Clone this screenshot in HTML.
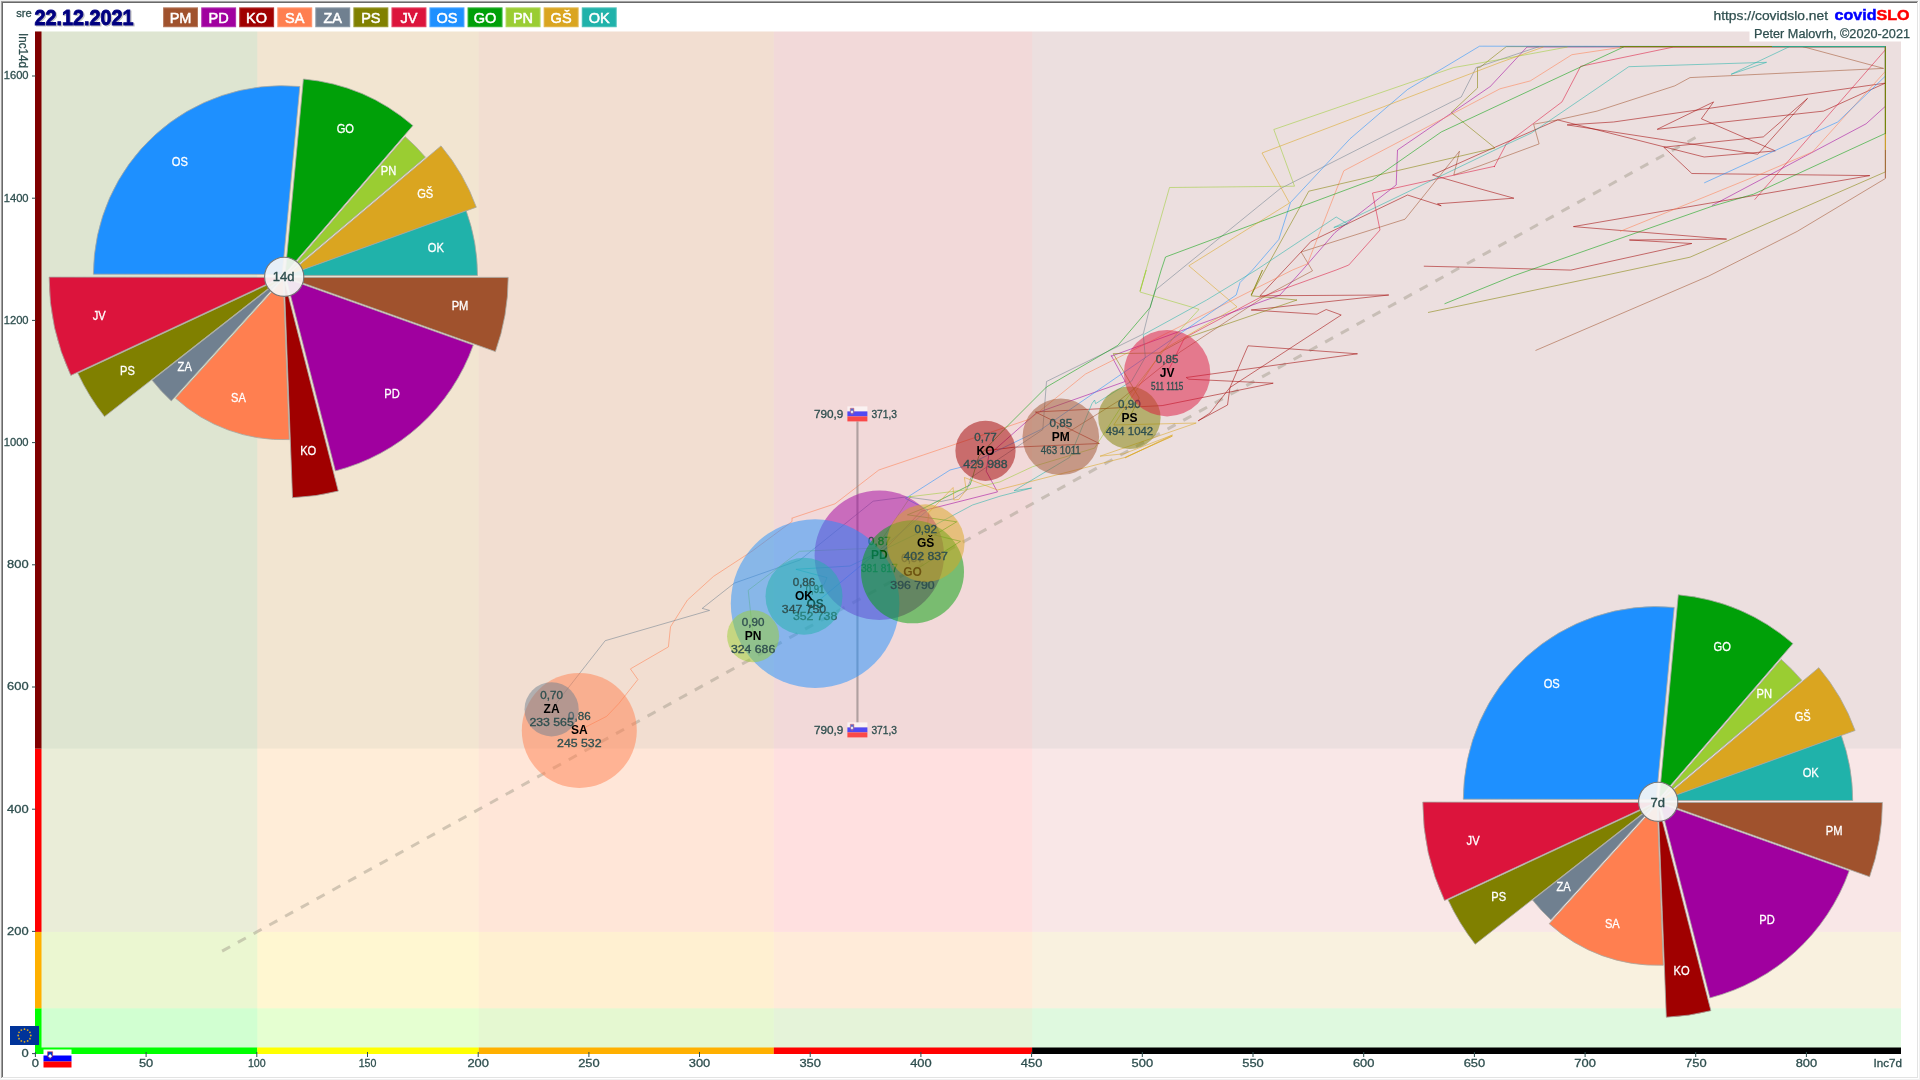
<!DOCTYPE html>
<html lang="sl"><head><meta charset="utf-8"><title>covidSLO 22.12.2021</title>
<style>html,body{margin:0;padding:0;background:#ffffff;overflow:hidden}svg{display:block;will-change:transform;-webkit-font-smoothing:antialiased}</style>
</head><body>
<svg width="1920" height="1080" viewBox="0 0 1920 1080">
<rect x="0" y="0" width="1920" height="1080" fill="#ffffff"/>
<g id="zones">
<rect x="35.0" y="31.5" width="1866.0" height="1022.5" fill="#ffffff"/>
<rect x="35.0" y="31.5" width="222.3" height="1022.5" fill="#00ff00" fill-opacity="0.085"/>
<rect x="257.3" y="31.5" width="221.4" height="1022.5" fill="#ffff00" fill-opacity="0.085"/>
<rect x="478.7" y="31.5" width="295.1" height="1022.5" fill="#ffb000" fill-opacity="0.085"/>
<rect x="773.8" y="31.5" width="258.4" height="1022.5" fill="#ff0000" fill-opacity="0.05"/>
<rect x="1032.1" y="31.5" width="868.9" height="1022.5" fill="#000000" fill-opacity="0.025"/>
<rect x="35.0" y="1008.3" width="1866.0" height="45.7" fill="#00ff00" fill-opacity="0.1"/>
<rect x="35.0" y="931.9" width="1866.0" height="76.4" fill="#ffb000" fill-opacity="0.1"/>
<rect x="35.0" y="748.6" width="1866.0" height="183.3" fill="#ff0000" fill-opacity="0.07"/>
<rect x="35.0" y="31.5" width="1866.0" height="717.1" fill="#800000" fill-opacity="0.1"/>
</g>
<line x1="222.1" y1="951.1" x2="1695.8" y2="137.4" stroke="#a09888" stroke-opacity="0.47" stroke-width="3" stroke-dasharray="9.1 8.9"/>
<g id="traces" fill="none" stroke-width="0.9" stroke-opacity="0.6" stroke-linejoin="round">
<polyline points="1060.8,436.8 1120.0,400.0 1180.0,352.0 1265.0,296.2 1312.5,270.8 1301.2,252.0 1405.0,219.2 1459.5,151.2 1453.8,175.0 1480.0,165.8 1539.1,143.9 1533.6,124.2 1557.7,119.9 1597.0,111.1 1674.7,85.9 1690.0,77.6 1883.6,68.4 1802.7,46.6 1885.4,46.6 1885.4,178.5 1797.2,231.4 1708.6,276.1 1535.5,350.5" stroke="#a0522d"/>
<polyline points="879.3,555.3 921.2,511.2 997.5,491.9 986.2,471.2 988.8,455.0 1036.3,413.0 1125.2,381.5 1111.3,355.6 1111.2,356.2 1280.0,295.0 1302.5,270.0 1335.0,232.5 1396.2,185.0 1397.5,150.0 1488.8,87.5 1489.8,87.0 1527.0,47.0 1885.4,46.6 1885.4,106.3 1866.1,123.8 1711.9,205.6" stroke="#a0009f"/>
<polyline points="985.5,450.8 1014.1,447.2 1099.3,443.5 1035.4,412.0 1162.2,405.6 1227.0,392.6 1273.2,383.2 1188.8,379.2 1186.2,377.5 1357.5,353.8 1248.0,345.8 1230.0,387.5 1227.5,405.0 1198.2,420.8 1210.0,413.0 1230.0,387.5 1341.2,315.0 1326.2,309.5 1317.0,314.2 1251.2,310.0 1388.8,295.0 1260.0,295.8 1311.2,241.2 1407.5,195.0 1441.2,205.8 1437.5,203.8 1513.9,198.2 1480.0,188.8 1432.5,175.0 1480.0,153.8 1557.7,119.9 1704.2,157.0 1775.3,150.9 1701.4,118.8 1713.6,101.9 1657.2,129.3 1823.5,111.1 1885.4,83.1 1613.5,122.0 1567.1,124.9 1757.8,154.2 1807.5,98.4 1763.3,136.9 1663.8,147.2 1691.8,173.5 1869.8,175.6 1573.4,226.6 1726.6,239.1 1629.4,240.0 1691.8,243.5 1570.8,270.1 1480.0,267.5 1423.8,266.2" stroke="#a00000"/>
<polyline points="579.3,730.3 606.7,716.3 618.6,703.8 637.9,679.5 630.4,668.9 668.4,646.9 670.5,626.8 687.4,600.1 713.5,576.4 752.0,551.2 792.0,521.5 792.0,517.9 792.2,518.1 835.0,503.8 878.8,470.0 1030.0,419.0 1085.4,374.1 1292.5,270.0 1307.5,263.8 1343.8,170.8 1500.0,88.8 1530.3,80.9 1571.9,54.7 1623.3,47.0 1885.4,46.6 1885.4,71.3 1812.5,152.0 1762.2,173.5 1620.0,231.4" stroke="#ff7f50"/>
<polyline points="551.6,709.2 605.2,640.7 709.6,610.4 702.2,608.4 734.2,583.2 800.0,560.0 873.1,501.2 906.2,496.9 941.0,501.5 953.3,498.9 966.6,490.3 970.0,481.2 970.6,477.8 1042.8,429.6 1046.5,381.5 1140.9,335.2 1143.3,333.8 1149.4,309.3 1155.5,290.0 1280.0,188.8 1461.2,97.0 1476.2,67.5 1480.0,66.3 1539.1,46.6" stroke="#708090"/>
<polyline points="1129.4,417.9 1139.2,398.0 1113.2,353.6 1159.0,353.0 1187.5,337.5 1297.0,300.0 1251.2,295.8 1262.5,270.0 1251.2,295.0 1308.8,191.2 1495.0,148.0 1451.2,112.5 1477.5,88.0 1477.5,67.5 1480.0,67.3 1506.3,46.6 1885.4,46.6 1885.4,171.9 1690.0,257.2 1601.4,276.1 1428.0,312.5" stroke="#808000"/>
<polyline points="1167.0,373.2 1184.5,337.9 1260.0,297.5 1336.2,270.0 1348.8,265.0 1380.0,230.0 1372.5,193.0 1495.0,166.2 1494.2,166.9 1506.3,143.9 1562.0,101.9 1580.6,66.3 1673.6,47.0 1885.4,46.6 1885.4,49.8 1754.6,199.7" stroke="#dc143c"/>
<polyline points="815.0,603.6 927.9,510.1 905.5,498.4 950.0,470.0 965.0,466.2 1040.9,429.6 1228.9,300.0 1236.2,295.0 1240.0,282.5 1252.5,270.0 1278.8,239.5 1290.5,202.5 1350.0,138.8 1407.5,89.5 1479.5,46.2 1885.4,46.6 1885.4,76.1 1837.7,122.0 1704.2,182.9" stroke="#1e90ff"/>
<polyline points="912.5,571.8 960.5,541.3 934.6,535.0 956.7,521.8 907.4,514.8 922.5,508.8 970.0,485.0 972.5,477.5 978.8,456.2 1003.9,429.6 1046.5,387.0 1117.8,345.4 1150.2,307.4 1161.2,270.0 1165.5,257.0 1372.5,180.0 1441.2,132.0 1500.0,104.5 1624.4,46.6 1885.4,46.6 1885.4,133.4 1753.5,194.2 1711.9,206.3 1512.8,276.1 1444.5,303.8" stroke="#00a008"/>
<polyline points="753.1,636.1 748.2,590.3 799.5,551.3 875.9,548.1 911.0,496.1 908.8,496.9 965.0,490.0 1000.0,481.9 1032.6,466.7 1094.6,448.1 1125.5,400.0 1177.4,332.8 1198.5,310.0 1198.8,309.2 1140.0,292.0 1146.2,270.0 1140.0,291.2 1169.5,187.5 1294.5,186.2 1273.8,129.5 1453.8,67.5 1500.0,59.5 1567.5,47.0" stroke="#9acd32"/>
<polyline points="925.7,543.1 928.8,512.5 953.1,487.5 953.8,500.0 958.8,499.4 966.2,490.0 964.4,477.5 997.5,490.0 1125.2,457.4 1172.4,436.1 1125.2,457.4 1125.0,458.0 1172.5,435.0 1123.8,453.8 1100.0,456.2 1196.2,423.0 1113.8,425.0 1162.5,350.0 1237.0,306.8 1193.8,270.0 1188.8,265.8 1289.5,203.0 1262.0,153.0 1500.0,62.5 1543.4,47.0" stroke="#daa520"/>
<polyline points="804.0,596.3 823.9,584.8 827.0,577.6 795.9,569.3 850.0,566.0 935.0,525.0 972.5,505.0 1000.0,496.2 1031.7,488.0 1014.1,490.7 1069.6,457.4 1091.9,403.7 1094.6,400.0 1095.6,403.7 1131.6,381.1 1145.3,357.2 1143.3,334.8 1206.7,300.0 1256.2,270.0 1336.2,217.0 1347.5,223.8 1333.8,227.5 1500.0,147.5 1531.4,133.0 1628.8,66.7 1766.6,62.3 1731.1,74.3 1789.6,46.6 1885.4,46.6" stroke="#20b2aa"/>
</g>
<g id="caps" fill="none" stroke-width="1" stroke-opacity="0.85">
<polyline points="1620,46.6 1885.4,46.6 1885.4,134" stroke="#808000"/>
<polyline points="1772,46.6 1885.4,46.6" stroke="#20b2aa"/>
<polyline points="1885.4,134 1885.4,150" stroke="#daa520"/>
<polyline points="1885.4,150 1885.4,178" stroke="#a0522d" stroke-opacity="0.6"/>
</g>
<g id="bars">
<rect x="35" y="1008.3" width="6.5" height="45.7" fill="#00ff00"/>
<rect x="35" y="931.9" width="6.5" height="76.4" fill="#ffb000"/>
<rect x="35" y="748.6" width="6.5" height="183.3" fill="#ff0000"/>
<rect x="35" y="31.5" width="6.5" height="717.1" fill="#800000"/>
<rect x="35.0" y="1047.5" width="222.3" height="6.5" fill="#00ff00"/>
<rect x="257.3" y="1047.5" width="221.4" height="6.5" fill="#ffff00"/>
<rect x="478.7" y="1047.5" width="295.1" height="6.5" fill="#ffb000"/>
<rect x="773.8" y="1047.5" width="258.4" height="6.5" fill="#ff0000"/>
<rect x="1032.1" y="1047.5" width="868.9" height="6.5" fill="#000000"/>
</g>
<g id="axes" font-family='"Liberation Sans", "DejaVu Sans", sans-serif' font-size="11.5" fill="#2f4f4f" stroke="#2f4f4f" stroke-width="0.3">
<rect x="32" y="1053.1" width="3.5" height="1" fill="#2f4f4f" stroke="none"/>
<text x="28.6" y="1057.0" text-anchor="end" textLength="7.2" lengthAdjust="spacingAndGlyphs">0</text>
<rect x="32" y="930.9" width="3.5" height="1" fill="#2f4f4f" stroke="none"/>
<text x="28.6" y="934.8" text-anchor="end" textLength="21.5" lengthAdjust="spacingAndGlyphs">200</text>
<rect x="32" y="808.7" width="3.5" height="1" fill="#2f4f4f" stroke="none"/>
<text x="28.6" y="812.6" text-anchor="end" textLength="21.5" lengthAdjust="spacingAndGlyphs">400</text>
<rect x="32" y="686.5" width="3.5" height="1" fill="#2f4f4f" stroke="none"/>
<text x="28.6" y="690.4" text-anchor="end" textLength="21.5" lengthAdjust="spacingAndGlyphs">600</text>
<rect x="32" y="564.3" width="3.5" height="1" fill="#2f4f4f" stroke="none"/>
<text x="28.6" y="568.2" text-anchor="end" textLength="21.5" lengthAdjust="spacingAndGlyphs">800</text>
<rect x="32" y="442.1" width="3.5" height="1" fill="#2f4f4f" stroke="none"/>
<text x="28.6" y="446.0" text-anchor="end" textLength="24.9" lengthAdjust="spacingAndGlyphs">1000</text>
<rect x="32" y="319.9" width="3.5" height="1" fill="#2f4f4f" stroke="none"/>
<text x="28.6" y="323.8" text-anchor="end" textLength="24.9" lengthAdjust="spacingAndGlyphs">1200</text>
<rect x="32" y="197.7" width="3.5" height="1" fill="#2f4f4f" stroke="none"/>
<text x="28.6" y="201.6" text-anchor="end" textLength="24.9" lengthAdjust="spacingAndGlyphs">1400</text>
<rect x="32" y="75.5" width="3.5" height="1" fill="#2f4f4f" stroke="none"/>
<text x="28.6" y="79.4" text-anchor="end" textLength="24.9" lengthAdjust="spacingAndGlyphs">1600</text>
<rect x="34.9" y="1052" width="1" height="5" fill="#2f4f4f" stroke="none"/>
<text x="35.4" y="1067" text-anchor="middle" textLength="7.2" lengthAdjust="spacingAndGlyphs">0</text>
<rect x="145.6" y="1052" width="1" height="5" fill="#2f4f4f" stroke="none"/>
<text x="146.1" y="1067" text-anchor="middle" textLength="14.3" lengthAdjust="spacingAndGlyphs">50</text>
<rect x="256.3" y="1052" width="1" height="5" fill="#2f4f4f" stroke="none"/>
<text x="256.8" y="1067" text-anchor="middle" textLength="17.7" lengthAdjust="spacingAndGlyphs">100</text>
<rect x="367.0" y="1052" width="1" height="5" fill="#2f4f4f" stroke="none"/>
<text x="367.5" y="1067" text-anchor="middle" textLength="17.7" lengthAdjust="spacingAndGlyphs">150</text>
<rect x="477.7" y="1052" width="1" height="5" fill="#2f4f4f" stroke="none"/>
<text x="478.2" y="1067" text-anchor="middle" textLength="21.5" lengthAdjust="spacingAndGlyphs">200</text>
<rect x="588.4" y="1052" width="1" height="5" fill="#2f4f4f" stroke="none"/>
<text x="588.9" y="1067" text-anchor="middle" textLength="21.5" lengthAdjust="spacingAndGlyphs">250</text>
<rect x="699.0" y="1052" width="1" height="5" fill="#2f4f4f" stroke="none"/>
<text x="699.5" y="1067" text-anchor="middle" textLength="21.5" lengthAdjust="spacingAndGlyphs">300</text>
<rect x="809.7" y="1052" width="1" height="5" fill="#2f4f4f" stroke="none"/>
<text x="810.2" y="1067" text-anchor="middle" textLength="21.5" lengthAdjust="spacingAndGlyphs">350</text>
<rect x="920.4" y="1052" width="1" height="5" fill="#2f4f4f" stroke="none"/>
<text x="920.9" y="1067" text-anchor="middle" textLength="21.5" lengthAdjust="spacingAndGlyphs">400</text>
<rect x="1031.1" y="1052" width="1" height="5" fill="#2f4f4f" stroke="none"/>
<text x="1031.6" y="1067" text-anchor="middle" textLength="21.5" lengthAdjust="spacingAndGlyphs">450</text>
<rect x="1141.8" y="1052" width="1" height="5" fill="#2f4f4f" stroke="none"/>
<text x="1142.3" y="1067" text-anchor="middle" textLength="21.5" lengthAdjust="spacingAndGlyphs">500</text>
<rect x="1252.5" y="1052" width="1" height="5" fill="#2f4f4f" stroke="none"/>
<text x="1253.0" y="1067" text-anchor="middle" textLength="21.5" lengthAdjust="spacingAndGlyphs">550</text>
<rect x="1363.2" y="1052" width="1" height="5" fill="#2f4f4f" stroke="none"/>
<text x="1363.7" y="1067" text-anchor="middle" textLength="21.5" lengthAdjust="spacingAndGlyphs">600</text>
<rect x="1473.9" y="1052" width="1" height="5" fill="#2f4f4f" stroke="none"/>
<text x="1474.4" y="1067" text-anchor="middle" textLength="21.5" lengthAdjust="spacingAndGlyphs">650</text>
<rect x="1584.6" y="1052" width="1" height="5" fill="#2f4f4f" stroke="none"/>
<text x="1585.1" y="1067" text-anchor="middle" textLength="21.5" lengthAdjust="spacingAndGlyphs">700</text>
<rect x="1695.2" y="1052" width="1" height="5" fill="#2f4f4f" stroke="none"/>
<text x="1695.8" y="1067" text-anchor="middle" textLength="21.5" lengthAdjust="spacingAndGlyphs">750</text>
<rect x="1805.9" y="1052" width="1" height="5" fill="#2f4f4f" stroke="none"/>
<text x="1806.4" y="1067" text-anchor="middle" textLength="21.5" lengthAdjust="spacingAndGlyphs">800</text>
<text x="1902" y="1067" text-anchor="end" textLength="28.5" lengthAdjust="spacingAndGlyphs">Inc7d</text>
<text transform="translate(18.5,33) rotate(90)" x="0" y="0" font-size="12.5" textLength="35" lengthAdjust="spacingAndGlyphs">Inc14d</text>
</g>
<g id="marker">
<rect x="856.4" y="421.5" width="2.1" height="301" fill="#948888" fill-opacity="0.7"/>
<g opacity="0.66"><rect x="847.4" y="406.4" width="20" height="5.00" fill="#ffffff"/><rect x="847.4" y="411.40" width="20" height="5.00" fill="#0000ff"/><rect x="847.4" y="416.40" width="20" height="5.00" fill="#ff0000"/><path d="M850.3 408.2h3.6v4.2l-1.8 2.1l-1.8 -2.1z" fill="#0033cc" stroke="#ee2222" stroke-width="0.5"/><path d="M850.6 412.1l1.4 -1.8l1.4 1.8l-1.4 1.5z" fill="#ffffff"/></g>
<g font-family='"Liberation Sans", "DejaVu Sans", sans-serif' font-size="10.5" fill="#2f4f4f" stroke="#2f4f4f" stroke-width="0.3"><text x="843.4" y="418.0" text-anchor="end" textLength="29.5" lengthAdjust="spacingAndGlyphs">790,9</text><text x="871.4" y="418.0" textLength="25.7" lengthAdjust="spacingAndGlyphs">371,3</text></g>
<g opacity="0.66"><rect x="847.4" y="722.4" width="20" height="5.00" fill="#ffffff"/><rect x="847.4" y="727.40" width="20" height="5.00" fill="#0000ff"/><rect x="847.4" y="732.40" width="20" height="5.00" fill="#ff0000"/><path d="M850.3 724.2h3.6v4.2l-1.8 2.1l-1.8 -2.1z" fill="#0033cc" stroke="#ee2222" stroke-width="0.5"/><path d="M850.6 728.1l1.4 -1.8l1.4 1.8l-1.4 1.5z" fill="#ffffff"/></g>
<g font-family='"Liberation Sans", "DejaVu Sans", sans-serif' font-size="10.5" fill="#2f4f4f" stroke="#2f4f4f" stroke-width="0.3"><text x="843.4" y="734.0" text-anchor="end" textLength="29.5" lengthAdjust="spacingAndGlyphs">790,9</text><text x="871.4" y="734.0" textLength="25.7" lengthAdjust="spacingAndGlyphs">371,3</text></g>
</g>
<g id="bubbles">
<circle cx="1060.8" cy="436.8" r="38.3" fill="#a0522d" fill-opacity="0.5"/>
<g font-family='"Liberation Sans", "DejaVu Sans", sans-serif' text-anchor="middle" fill="#2f4f4f" stroke="#2f4f4f" stroke-width="0.3" font-size="10.2"><text x="1060.8" y="426.6" textLength="22.6" lengthAdjust="spacingAndGlyphs">0,85</text><text x="1060.8" y="440.8" font-size="12" font-weight="bold" fill="#000000" stroke="none">PM</text><text x="1060.8" y="453.6" textLength="39.9" lengthAdjust="spacingAndGlyphs">463 1011</text></g>
<circle cx="879.3" cy="555.3" r="64.7" fill="#a0009f" fill-opacity="0.5"/>
<g font-family='"Liberation Sans", "DejaVu Sans", sans-serif' text-anchor="middle" fill="#2f4f4f" stroke="#2f4f4f" stroke-width="0.3" font-size="10.2"><text x="879.3" y="545.1" textLength="22.6" lengthAdjust="spacingAndGlyphs">0,87</text><text x="879.3" y="559.3" font-size="12" font-weight="bold" fill="#000000" stroke="none">PD</text><text x="879.3" y="572.1" textLength="36.8" lengthAdjust="spacingAndGlyphs">381 817</text></g>
<circle cx="985.5" cy="450.8" r="30.1" fill="#a00000" fill-opacity="0.5"/>
<g font-family='"Liberation Sans", "DejaVu Sans", sans-serif' text-anchor="middle" fill="#2f4f4f" stroke="#2f4f4f" stroke-width="0.3" font-size="10.2"><text x="985.5" y="440.6" textLength="22.6" lengthAdjust="spacingAndGlyphs">0,77</text><text x="985.5" y="454.8" font-size="12" font-weight="bold" fill="#000000" stroke="none">KO</text><text x="985.5" y="467.6" textLength="44.4" lengthAdjust="spacingAndGlyphs">429 988</text></g>
<circle cx="579.3" cy="730.4" r="57.5" fill="#ff7f50" fill-opacity="0.5"/>
<g font-family='"Liberation Sans", "DejaVu Sans", sans-serif' text-anchor="middle" fill="#2f4f4f" stroke="#2f4f4f" stroke-width="0.3" font-size="10.2"><text x="579.3" y="720.2" textLength="22.6" lengthAdjust="spacingAndGlyphs">0,86</text><text x="579.3" y="734.4" font-size="12" font-weight="bold" fill="#000000" stroke="none">SA</text><text x="579.3" y="747.2" textLength="44.4" lengthAdjust="spacingAndGlyphs">245 532</text></g>
<circle cx="551.6" cy="709.3" r="27.1" fill="#708090" fill-opacity="0.5"/>
<g font-family='"Liberation Sans", "DejaVu Sans", sans-serif' text-anchor="middle" fill="#2f4f4f" stroke="#2f4f4f" stroke-width="0.3" font-size="10.2"><text x="551.6" y="699.1" textLength="22.6" lengthAdjust="spacingAndGlyphs">0,70</text><text x="551.6" y="713.3" font-size="12" font-weight="bold" fill="#000000" stroke="none">ZA</text><text x="551.6" y="726.1" textLength="44.4" lengthAdjust="spacingAndGlyphs">233 565</text></g>
<circle cx="1129.4" cy="417.8" r="31.2" fill="#808000" fill-opacity="0.5"/>
<g font-family='"Liberation Sans", "DejaVu Sans", sans-serif' text-anchor="middle" fill="#2f4f4f" stroke="#2f4f4f" stroke-width="0.3" font-size="10.2"><text x="1129.4" y="407.6" textLength="22.6" lengthAdjust="spacingAndGlyphs">0,90</text><text x="1129.4" y="421.8" font-size="12" font-weight="bold" fill="#000000" stroke="none">PS</text><text x="1129.4" y="434.6" textLength="47.5" lengthAdjust="spacingAndGlyphs">494 1042</text></g>
<circle cx="1167.1" cy="373.2" r="43.2" fill="#dc143c" fill-opacity="0.5"/>
<g font-family='"Liberation Sans", "DejaVu Sans", sans-serif' text-anchor="middle" fill="#2f4f4f" stroke="#2f4f4f" stroke-width="0.3" font-size="10.2"><text x="1167.1" y="363.0" textLength="22.6" lengthAdjust="spacingAndGlyphs">0,85</text><text x="1167.1" y="377.2" font-size="12" font-weight="bold" fill="#000000" stroke="none">JV</text><text x="1167.1" y="390.0" textLength="32.3" lengthAdjust="spacingAndGlyphs">511 1115</text></g>
<circle cx="815.1" cy="603.6" r="84.3" fill="#1e90ff" fill-opacity="0.5"/>
<g font-family='"Liberation Sans", "DejaVu Sans", sans-serif' text-anchor="middle" fill="#2f4f4f" stroke="#2f4f4f" stroke-width="0.3" font-size="10.2"><text x="815.1" y="593.4" textLength="18.8" lengthAdjust="spacingAndGlyphs">0,91</text><text x="815.1" y="607.6" font-size="12" font-weight="bold" fill="#000000" stroke="none">OS</text><text x="815.1" y="620.4" textLength="44.4" lengthAdjust="spacingAndGlyphs">352 738</text></g>
<circle cx="912.5" cy="571.8" r="51.5" fill="#00a008" fill-opacity="0.5"/>
<g font-family='"Liberation Sans", "DejaVu Sans", sans-serif' text-anchor="middle" fill="#2f4f4f" stroke="#2f4f4f" stroke-width="0.3" font-size="10.2"><text x="912.5" y="561.6" textLength="22.6" lengthAdjust="spacingAndGlyphs">0,87</text><text x="912.5" y="575.8" font-size="12" font-weight="bold" fill="#000000" stroke="none">GO</text><text x="912.5" y="588.6" textLength="44.4" lengthAdjust="spacingAndGlyphs">396 790</text></g>
<circle cx="753.1" cy="636.3" r="26.0" fill="#9acd32" fill-opacity="0.5"/>
<g font-family='"Liberation Sans", "DejaVu Sans", sans-serif' text-anchor="middle" fill="#2f4f4f" stroke="#2f4f4f" stroke-width="0.3" font-size="10.2"><text x="753.1" y="626.1" textLength="22.6" lengthAdjust="spacingAndGlyphs">0,90</text><text x="753.1" y="640.3" font-size="12" font-weight="bold" fill="#000000" stroke="none">PN</text><text x="753.1" y="653.1" textLength="44.4" lengthAdjust="spacingAndGlyphs">324 686</text></g>
<circle cx="925.7" cy="543.1" r="38.9" fill="#daa520" fill-opacity="0.5"/>
<g font-family='"Liberation Sans", "DejaVu Sans", sans-serif' text-anchor="middle" fill="#2f4f4f" stroke="#2f4f4f" stroke-width="0.3" font-size="10.2"><text x="925.7" y="532.9" textLength="22.6" lengthAdjust="spacingAndGlyphs">0,92</text><text x="925.7" y="547.1" font-size="12" font-weight="bold" fill="#000000" stroke="none">GŠ</text><text x="925.7" y="559.9" textLength="44.4" lengthAdjust="spacingAndGlyphs">402 837</text></g>
<circle cx="804.0" cy="596.2" r="38.5" fill="#20b2aa" fill-opacity="0.5"/>
<g font-family='"Liberation Sans", "DejaVu Sans", sans-serif' text-anchor="middle" fill="#2f4f4f" stroke="#2f4f4f" stroke-width="0.3" font-size="10.2"><text x="804.0" y="586.0" textLength="22.6" lengthAdjust="spacingAndGlyphs">0,86</text><text x="804.0" y="600.2" font-size="12" font-weight="bold" fill="#000000" stroke="none">OK</text><text x="804.0" y="613.0" textLength="44.4" lengthAdjust="spacingAndGlyphs">347 750</text></g>
</g>
<g id="pie14d">
<path d="M287.2 277.4L508.2 277.4A221.0 221.0 0 0 1 495.4 351.6Z" fill="#a0522d" stroke="#a8a8a0" stroke-opacity="0.8" stroke-width="1" stroke-linejoin="round"/>
<path d="M286.2 278.4L473.3 345.1A198.7 198.7 0 0 1 335.4 470.9Z" fill="#a0009f" stroke="#a8a8a0" stroke-opacity="0.8" stroke-width="1" stroke-linejoin="round"/>
<path d="M284.2 279.4L338.3 491.1A218.5 218.5 0 0 1 292.5 497.7Z" fill="#a00000" stroke="#a8a8a0" stroke-opacity="0.8" stroke-width="1" stroke-linejoin="round"/>
<path d="M283.2 279.4L289.3 439.6A160.3 160.3 0 0 1 175.6 398.3Z" fill="#ff7f50" stroke="#a8a8a0" stroke-opacity="0.8" stroke-width="1" stroke-linejoin="round"/>
<path d="M282.2 278.4L171.3 400.9A165.2 165.2 0 0 1 152.1 380.2Z" fill="#708090" stroke="#a8a8a0" stroke-opacity="0.8" stroke-width="1" stroke-linejoin="round"/>
<path d="M281.2 278.4L104.5 416.6A224.3 224.3 0 0 1 77.8 373.2Z" fill="#808000" stroke="#a8a8a0" stroke-opacity="0.8" stroke-width="1" stroke-linejoin="round"/>
<path d="M281.2 277.4L70.8 375.4A232.1 232.1 0 0 1 49.1 277.1Z" fill="#dc143c" stroke="#a8a8a0" stroke-opacity="0.8" stroke-width="1" stroke-linejoin="round"/>
<path d="M282.2 274.4L93.4 274.2A188.8 188.8 0 0 1 299.8 86.5Z" fill="#1e90ff" stroke="#a8a8a0" stroke-opacity="0.8" stroke-width="1" stroke-linejoin="round"/>
<path d="M285.2 273.4L303.4 79.0A195.3 195.3 0 0 1 412.9 125.6Z" fill="#00a008" stroke="#a8a8a0" stroke-opacity="0.8" stroke-width="1" stroke-linejoin="round"/>
<path d="M286.2 274.4L405.2 136.7A182.0 182.0 0 0 1 425.4 157.2Z" fill="#9acd32" stroke="#a8a8a0" stroke-opacity="0.8" stroke-width="1" stroke-linejoin="round"/>
<path d="M287.2 275.4L441.0 145.9A201.1 201.1 0 0 1 476.3 207.2Z" fill="#daa520" stroke="#a8a8a0" stroke-opacity="0.8" stroke-width="1" stroke-linejoin="round"/>
<path d="M287.2 275.4L466.2 210.8A190.3 190.3 0 0 1 477.5 275.4Z" fill="#20b2aa" stroke="#a8a8a0" stroke-opacity="0.8" stroke-width="1" stroke-linejoin="round"/>
<g font-family='"Liberation Sans", "DejaVu Sans", sans-serif' font-size="12.5" fill="#ffffff" stroke="#ffffff" stroke-width="0.3" text-anchor="middle">
<text x="460.0" y="310.1" textLength="16.7" lengthAdjust="spacingAndGlyphs">PM</text>
<text x="392.0" y="398.2" textLength="15.5" lengthAdjust="spacingAndGlyphs">PD</text>
<text x="308.2" y="454.6" textLength="16.1" lengthAdjust="spacingAndGlyphs">KO</text>
<text x="238.5" y="402.2" textLength="14.8" lengthAdjust="spacingAndGlyphs">SA</text>
<text x="184.7" y="370.8" textLength="14.2" lengthAdjust="spacingAndGlyphs">ZA</text>
<text x="127.5" y="374.6" textLength="14.8" lengthAdjust="spacingAndGlyphs">PS</text>
<text x="99.3" y="320.0" textLength="13.0" lengthAdjust="spacingAndGlyphs">JV</text>
<text x="179.8" y="165.6" textLength="16.1" lengthAdjust="spacingAndGlyphs">OS</text>
<text x="345.3" y="132.7" textLength="17.3" lengthAdjust="spacingAndGlyphs">GO</text>
<text x="388.5" y="175.0" textLength="15.5" lengthAdjust="spacingAndGlyphs">PN</text>
<text x="425.2" y="197.9" textLength="16.1" lengthAdjust="spacingAndGlyphs">GŠ</text>
<text x="435.8" y="251.9" textLength="16.1" lengthAdjust="spacingAndGlyphs">OK</text>
</g>
<circle cx="284.2" cy="276.8" r="19.6" fill="#f6f6f6" fill-opacity="0.93" stroke="#787878" stroke-width="1.1"/>
<text x="283.7" y="281.4" font-family='"Liberation Sans", "DejaVu Sans", sans-serif' font-size="13" fill="#2f4f4f" stroke="#2f4f4f" stroke-width="0.4" text-anchor="middle">14d</text>
</g>
<g id="pie7d">
<path d="M1661.2 802.5L1882.4 802.5A221.2 221.2 0 0 1 1869.6 876.7Z" fill="#a0522d" stroke="#a8a8a0" stroke-opacity="0.8" stroke-width="1" stroke-linejoin="round"/>
<path d="M1660.2 803.5L1849.2 870.8A200.7 200.7 0 0 1 1709.9 997.9Z" fill="#a0009f" stroke="#a8a8a0" stroke-opacity="0.8" stroke-width="1" stroke-linejoin="round"/>
<path d="M1658.2 804.5L1710.9 1010.7A212.9 212.9 0 0 1 1666.3 1017.2Z" fill="#a00000" stroke="#a8a8a0" stroke-opacity="0.8" stroke-width="1" stroke-linejoin="round"/>
<path d="M1657.2 804.5L1663.3 965.2A160.9 160.9 0 0 1 1549.2 923.7Z" fill="#ff7f50" stroke="#a8a8a0" stroke-opacity="0.8" stroke-width="1" stroke-linejoin="round"/>
<path d="M1656.2 803.5L1550.9 919.8A156.9 156.9 0 0 1 1532.6 900.1Z" fill="#708090" stroke="#a8a8a0" stroke-opacity="0.8" stroke-width="1" stroke-linejoin="round"/>
<path d="M1655.2 803.5L1475.2 944.2A228.5 228.5 0 0 1 1448.1 899.9Z" fill="#808000" stroke="#a8a8a0" stroke-opacity="0.8" stroke-width="1" stroke-linejoin="round"/>
<path d="M1655.2 802.5L1444.5 900.5A232.4 232.4 0 0 1 1422.8 802.1Z" fill="#dc143c" stroke="#a8a8a0" stroke-opacity="0.8" stroke-width="1" stroke-linejoin="round"/>
<path d="M1656.2 799.5L1463.3 799.2A192.9 192.9 0 0 1 1674.2 607.4Z" fill="#1e90ff" stroke="#a8a8a0" stroke-opacity="0.8" stroke-width="1" stroke-linejoin="round"/>
<path d="M1659.2 798.5L1678.3 594.8A204.6 204.6 0 0 1 1792.9 643.6Z" fill="#00a008" stroke="#a8a8a0" stroke-opacity="0.8" stroke-width="1" stroke-linejoin="round"/>
<path d="M1660.2 799.5L1781.2 659.4A185.0 185.0 0 0 1 1801.7 680.2Z" fill="#9acd32" stroke="#a8a8a0" stroke-opacity="0.8" stroke-width="1" stroke-linejoin="round"/>
<path d="M1661.2 800.5L1818.8 667.7A206.1 206.1 0 0 1 1855.1 730.5Z" fill="#daa520" stroke="#a8a8a0" stroke-opacity="0.8" stroke-width="1" stroke-linejoin="round"/>
<path d="M1661.2 800.5L1841.3 735.4A191.5 191.5 0 0 1 1852.7 800.5Z" fill="#20b2aa" stroke="#a8a8a0" stroke-opacity="0.8" stroke-width="1" stroke-linejoin="round"/>
<g font-family='"Liberation Sans", "DejaVu Sans", sans-serif' font-size="12.5" fill="#ffffff" stroke="#ffffff" stroke-width="0.3" text-anchor="middle">
<text x="1834.2" y="835.1" textLength="16.7" lengthAdjust="spacingAndGlyphs">PM</text>
<text x="1767.1" y="924.4" textLength="15.5" lengthAdjust="spacingAndGlyphs">PD</text>
<text x="1681.6" y="975.2" textLength="16.1" lengthAdjust="spacingAndGlyphs">KO</text>
<text x="1612.3" y="927.6" textLength="14.8" lengthAdjust="spacingAndGlyphs">SA</text>
<text x="1563.6" y="891.3" textLength="14.2" lengthAdjust="spacingAndGlyphs">ZA</text>
<text x="1498.7" y="901.3" textLength="14.8" lengthAdjust="spacingAndGlyphs">PS</text>
<text x="1473.1" y="845.0" textLength="13.0" lengthAdjust="spacingAndGlyphs">JV</text>
<text x="1551.7" y="688.2" textLength="16.1" lengthAdjust="spacingAndGlyphs">OS</text>
<text x="1722.2" y="650.9" textLength="17.3" lengthAdjust="spacingAndGlyphs">GO</text>
<text x="1764.2" y="698.3" textLength="15.5" lengthAdjust="spacingAndGlyphs">PN</text>
<text x="1802.7" y="720.9" textLength="16.1" lengthAdjust="spacingAndGlyphs">GŠ</text>
<text x="1810.7" y="776.7" textLength="16.1" lengthAdjust="spacingAndGlyphs">OK</text>
</g>
<circle cx="1658.2" cy="801.8" r="19.6" fill="#f6f6f6" fill-opacity="0.93" stroke="#787878" stroke-width="1.1"/>
<text x="1657.7" y="806.5" font-family='"Liberation Sans", "DejaVu Sans", sans-serif' font-size="13" fill="#2f4f4f" stroke="#2f4f4f" stroke-width="0.4" text-anchor="middle">7d</text>
</g>
<g id="eu"><rect x="10" y="1026" width="29" height="19" fill="#003399"/>
<circle cx="24.50" cy="1029.20" r="0.9" fill="#ddaa22"/>
<circle cx="27.65" cy="1030.04" r="0.9" fill="#ddaa22"/>
<circle cx="29.96" cy="1032.35" r="0.9" fill="#ddaa22"/>
<circle cx="30.80" cy="1035.50" r="0.9" fill="#ddaa22"/>
<circle cx="29.96" cy="1038.65" r="0.9" fill="#ddaa22"/>
<circle cx="27.65" cy="1040.96" r="0.9" fill="#ddaa22"/>
<circle cx="24.50" cy="1041.80" r="0.9" fill="#ddaa22"/>
<circle cx="21.35" cy="1040.96" r="0.9" fill="#ddaa22"/>
<circle cx="19.04" cy="1038.65" r="0.9" fill="#ddaa22"/>
<circle cx="18.20" cy="1035.50" r="0.9" fill="#ddaa22"/>
<circle cx="19.04" cy="1032.35" r="0.9" fill="#ddaa22"/>
<circle cx="21.35" cy="1030.04" r="0.9" fill="#ddaa22"/>
</g>
<g opacity="1.0"><rect x="43.5" y="1049.5" width="28" height="6.00" fill="#ffffff"/><rect x="43.5" y="1055.50" width="28" height="6.00" fill="#0000ff"/><rect x="43.5" y="1061.50" width="28" height="6.00" fill="#ff0000"/><path d="M47.6 1051.7h5.0v5.0l-2.5 2.5l-2.5 -2.5z" fill="#0033cc" stroke="#ee2222" stroke-width="0.5"/><path d="M48.1 1056.3l2.0 -2.2l2.0 2.2l-2.0 1.8z" fill="#ffffff"/></g>
<g id="header" font-family='"Liberation Sans", "DejaVu Sans", sans-serif'>
<text x="16.2" y="16.8" font-size="10.5" fill="#2f4f4f" stroke="#2f4f4f" stroke-width="0.3" textLength="15.5" lengthAdjust="spacingAndGlyphs">sre</text>
<text x="35.8" y="26.4" font-size="22" font-weight="bold" fill="#c4c4c4" stroke="#c4c4c4" stroke-width="0.9" textLength="99" lengthAdjust="spacingAndGlyphs">22.12.2021</text>
<text x="34.5" y="25" font-size="22" font-weight="bold" fill="#000080" stroke="#000080" stroke-width="0.9" textLength="99" lengthAdjust="spacingAndGlyphs">22.12.2021</text>
<rect x="163.1" y="7.4" width="34.9" height="19.8" fill="#a0522d"/>
<rect x="163.6" y="7.9" width="33.9" height="18.8" fill="none" stroke="#ffffff" stroke-opacity="0.22" stroke-width="1"/>
<text x="180.5" y="22.6" font-size="14.5" fill="#ffffff" stroke="#ffffff" stroke-width="0.5" text-anchor="middle">PM</text>
<rect x="201.2" y="7.4" width="34.9" height="19.8" fill="#a0009f"/>
<rect x="201.7" y="7.9" width="33.9" height="18.8" fill="none" stroke="#ffffff" stroke-opacity="0.22" stroke-width="1"/>
<text x="218.6" y="22.6" font-size="14.5" fill="#ffffff" stroke="#ffffff" stroke-width="0.5" text-anchor="middle">PD</text>
<rect x="239.2" y="7.4" width="34.9" height="19.8" fill="#a00000"/>
<rect x="239.7" y="7.9" width="33.9" height="18.8" fill="none" stroke="#ffffff" stroke-opacity="0.22" stroke-width="1"/>
<text x="256.6" y="22.6" font-size="14.5" fill="#ffffff" stroke="#ffffff" stroke-width="0.5" text-anchor="middle">KO</text>
<rect x="277.3" y="7.4" width="34.9" height="19.8" fill="#ff7f50"/>
<rect x="277.8" y="7.9" width="33.9" height="18.8" fill="none" stroke="#ffffff" stroke-opacity="0.22" stroke-width="1"/>
<text x="294.7" y="22.6" font-size="14.5" fill="#ffffff" stroke="#ffffff" stroke-width="0.5" text-anchor="middle">SA</text>
<rect x="315.3" y="7.4" width="34.9" height="19.8" fill="#708090"/>
<rect x="315.8" y="7.9" width="33.9" height="18.8" fill="none" stroke="#ffffff" stroke-opacity="0.22" stroke-width="1"/>
<text x="332.7" y="22.6" font-size="14.5" fill="#ffffff" stroke="#ffffff" stroke-width="0.5" text-anchor="middle">ZA</text>
<rect x="353.4" y="7.4" width="34.9" height="19.8" fill="#808000"/>
<rect x="353.9" y="7.9" width="33.9" height="18.8" fill="none" stroke="#ffffff" stroke-opacity="0.22" stroke-width="1"/>
<text x="370.8" y="22.6" font-size="14.5" fill="#ffffff" stroke="#ffffff" stroke-width="0.5" text-anchor="middle">PS</text>
<rect x="391.5" y="7.4" width="34.9" height="19.8" fill="#dc143c"/>
<rect x="392.0" y="7.9" width="33.9" height="18.8" fill="none" stroke="#ffffff" stroke-opacity="0.22" stroke-width="1"/>
<text x="408.9" y="22.6" font-size="14.5" fill="#ffffff" stroke="#ffffff" stroke-width="0.5" text-anchor="middle">JV</text>
<rect x="429.5" y="7.4" width="34.9" height="19.8" fill="#1e90ff"/>
<rect x="430.0" y="7.9" width="33.9" height="18.8" fill="none" stroke="#ffffff" stroke-opacity="0.22" stroke-width="1"/>
<text x="446.9" y="22.6" font-size="14.5" fill="#ffffff" stroke="#ffffff" stroke-width="0.5" text-anchor="middle">OS</text>
<rect x="467.6" y="7.4" width="34.9" height="19.8" fill="#00a008"/>
<rect x="468.1" y="7.9" width="33.9" height="18.8" fill="none" stroke="#ffffff" stroke-opacity="0.22" stroke-width="1"/>
<text x="485.0" y="22.6" font-size="14.5" fill="#ffffff" stroke="#ffffff" stroke-width="0.5" text-anchor="middle">GO</text>
<rect x="505.6" y="7.4" width="34.9" height="19.8" fill="#9acd32"/>
<rect x="506.1" y="7.9" width="33.9" height="18.8" fill="none" stroke="#ffffff" stroke-opacity="0.22" stroke-width="1"/>
<text x="523.0" y="22.6" font-size="14.5" fill="#ffffff" stroke="#ffffff" stroke-width="0.5" text-anchor="middle">PN</text>
<rect x="543.7" y="7.4" width="34.9" height="19.8" fill="#daa520"/>
<rect x="544.2" y="7.9" width="33.9" height="18.8" fill="none" stroke="#ffffff" stroke-opacity="0.22" stroke-width="1"/>
<text x="561.1" y="22.6" font-size="14.5" fill="#ffffff" stroke="#ffffff" stroke-width="0.5" text-anchor="middle">GŠ</text>
<rect x="581.8" y="7.4" width="34.9" height="19.8" fill="#20b2aa"/>
<rect x="582.3" y="7.9" width="33.9" height="18.8" fill="none" stroke="#ffffff" stroke-opacity="0.22" stroke-width="1"/>
<text x="599.2" y="22.6" font-size="14.5" fill="#ffffff" stroke="#ffffff" stroke-width="0.5" text-anchor="middle">OK</text>
<text x="1828" y="20" font-size="12.5" fill="#2f4f4f" stroke="#2f4f4f" stroke-width="0.25" text-anchor="end" textLength="114.5" lengthAdjust="spacingAndGlyphs">https://covidslo.net</text>
<text x="1834.5" y="19.8" font-size="15.2" font-weight="bold" fill="#0000ff" stroke="#0000ff" stroke-width="0.5" textLength="75" lengthAdjust="spacingAndGlyphs">covid<tspan fill="#ff0000" stroke="#ff0000">SLO</tspan></text>
<rect x="1749.5" y="26" width="152" height="15.5" fill="#ffffff"/>
<text x="1910" y="38" font-size="12.5" fill="#2f4f4f" stroke="#2f4f4f" stroke-width="0.25" text-anchor="end" textLength="156" lengthAdjust="spacingAndGlyphs">Peter Malovrh, ©2020-2021</text>
</g>
<g id="border" shape-rendering="crispEdges">
<rect x="0" y="0" width="1920" height="1080" fill="none" stroke="#f0f0f0" stroke-width="2"/>
<rect x="1" y="1" width="1918" height="1" fill="#a0a0a0"/><rect x="1" y="1" width="1" height="1078" fill="#a0a0a0"/>
<rect x="1" y="1078" width="1918" height="1" fill="#ffffff"/><rect x="1918" y="1" width="1" height="1078" fill="#ffffff"/>
<rect x="2" y="2" width="1916" height="1" fill="#696969"/><rect x="2" y="2" width="1" height="1076" fill="#696969"/>
<rect x="2" y="1077" width="1916" height="1" fill="#e3e3e3"/><rect x="1917" y="2" width="1" height="1076" fill="#e3e3e3"/>
</g>
</svg></body></html>
